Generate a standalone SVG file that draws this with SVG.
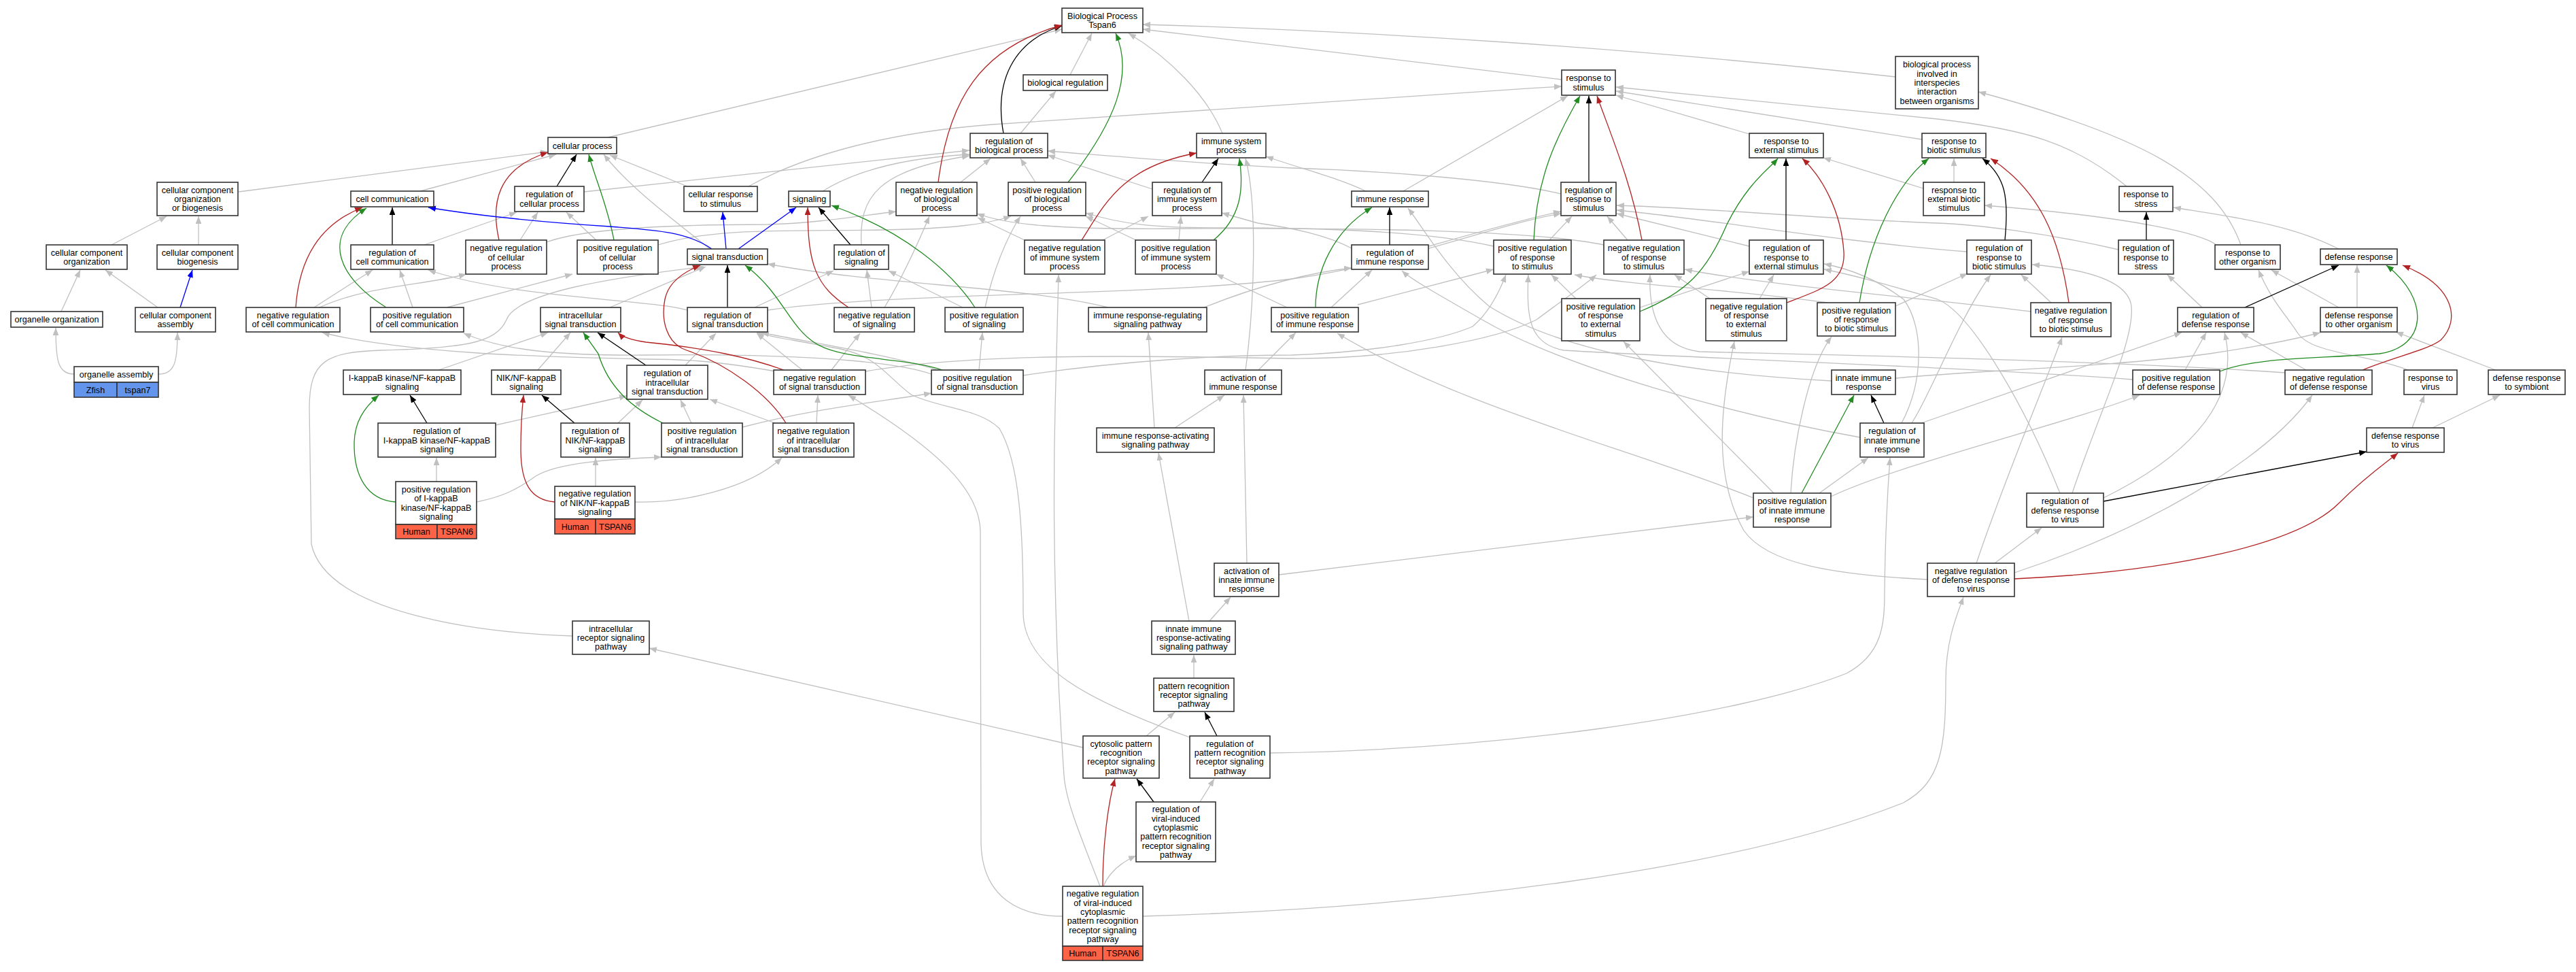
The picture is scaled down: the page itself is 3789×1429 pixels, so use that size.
<svg xmlns="http://www.w3.org/2000/svg" width="3789" height="1429" viewBox="0 0 3789 1429">
<style>
.n rect{fill:#fff;stroke:#333;stroke-width:1.6}
.n rect.h{fill:#ff6347}
.n rect.z{fill:#6495ed}
text{font-family:"Liberation Sans",Arial,sans-serif;font-size:12.6px;text-anchor:middle;fill:#000}
.e path{fill:none;stroke-width:1.3}
.e .g{stroke:#c0c0c0;marker-end:url(#ag)}
.e .k{stroke:#000;marker-end:url(#ak)}
.e .r{stroke:#b22222;marker-end:url(#ar)}
.e .v{stroke:#228b22;marker-end:url(#av)}
.e .b{stroke:#0000ff;marker-end:url(#ab)}
</style>
<defs>
<marker id="ag" viewBox="0 0 10 8" refX="10" refY="4" markerWidth="11" markerHeight="8.8" markerUnits="userSpaceOnUse" orient="auto"><path d="M0,0L10,4L0,8z" fill="#c0c0c0"/></marker>
<marker id="ak" viewBox="0 0 10 8" refX="10" refY="4" markerWidth="11" markerHeight="8.8" markerUnits="userSpaceOnUse" orient="auto"><path d="M0,0L10,4L0,8z" fill="#000"/></marker>
<marker id="ar" viewBox="0 0 10 8" refX="10" refY="4" markerWidth="11" markerHeight="8.8" markerUnits="userSpaceOnUse" orient="auto"><path d="M0,0L10,4L0,8z" fill="#b22222"/></marker>
<marker id="av" viewBox="0 0 10 8" refX="10" refY="4" markerWidth="11" markerHeight="8.8" markerUnits="userSpaceOnUse" orient="auto"><path d="M0,0L10,4L0,8z" fill="#228b22"/></marker>
<marker id="ab" viewBox="0 0 10 8" refX="10" refY="4" markerWidth="11" markerHeight="8.8" markerUnits="userSpaceOnUse" orient="auto"><path d="M0,0L10,4L0,8z" fill="#0000ff"/></marker>
</defs>
<rect width="3789" height="1429" fill="#fff"/>
<g id="edges" class="e">
<path class="g" d="M894,202 L1562,43"/>
<path class="g" d="M1574,110 L1606,49"/>
<path class="g" d="M1501,196 L1553,134"/>
<path class="g" d="M1798,196 C1775,140 1720,85 1660,49"/>
<path class="g" d="M2297,117 L1681,43"/>
<path class="g" d="M2788,113 C2400,70 2000,45 1681,36"/>
<path class="g" d="M351,282 L806,223"/>
<path class="g" d="M618,281 L818,227"/>
<path class="g" d="M1044,366 C1000,330 930,280 888,227"/>
<path class="g" d="M1011,274 L897,228"/>
<path class="g" d="M1101,274 C1180,230 1300,195 1460,183 C1700,165 2000,145 2297,127"/>
<path class="g" d="M859,282 L1426,221"/>
<path class="g" d="M1210,281 C1260,250 1330,232 1426,227"/>
<path class="g" d="M1267,360 C1263,290 1290,250 1426,229"/>
<path class="g" d="M1413,268 L1457,233"/>
<path class="g" d="M1523,268 L1501,233"/>
<path class="g" d="M1695,278 L1541,228"/>
<path class="g" d="M2296,285 C2200,262 2000,250 1900,247 C1750,240 1620,228 1541,222"/>
<path class="g" d="M2009,281 C1970,262 1920,250 1862,230"/>
<path class="g" d="M2064,281 L2306,141"/>
<path class="g" d="M2573,197 L2377,140"/>
<path class="g" d="M2827,205 L2377,134"/>
<path class="g" d="M3128,274 C3050,210 2980,190 2850,175 L2377,128"/>
<path class="g" d="M3296,360 C3260,260 3150,200 2910,135"/>
<path class="g" d="M3260,360 C3240,345 3150,320 2919,302"/>
<path class="g" d="M2874,268 L2874,233"/>
<path class="g" d="M2829,277 L2682,232"/>
<path class="g" d="M3440,366 C3370,330 3290,320 3197,305"/>
<path class="g" d="M3467,452 L3467,390"/>
<path class="g" d="M3440,452 L3341,397"/>
<path class="g" d="M3542,544 C3480,520 3400,520 3380,490 C3360,460 3340,440 3322,397"/>
<path class="g" d="M3239,452 L3188,404"/>
<path class="g" d="M3392,544 L3296,489"/>
<path class="g" d="M3214,544 L3245,489"/>
<path class="g" d="M3671,544 L3524,488"/>
<path class="g" d="M3548,629 L3566,581"/>
<path class="g" d="M3578,629 L3677,581"/>
<path class="g" d="M3094,732 C3200,680 3300,600 3272,489"/>
<path class="g" d="M3048,725 C3090,600 3140,500 3135,450 C3130,410 3060,395 2989,389"/>
<path class="g" d="M2934,828 L3003,776"/>
<path class="g" d="M2907,828 C2950,700 3010,560 3033,496"/>
<path class="g" d="M2963,842 C3150,780 3330,680 3401,581"/>
<path class="g" d="M2835,852 C2700,845 2600,830 2565,780 C2520,700 2530,600 2551,502"/>
<path class="g" d="M3017,445 L2973,404"/>
<path class="g" d="M2987,458 C2850,440 2600,420 2478,396"/>
<path class="g" d="M2788,450 L2894,402"/>
<path class="g" d="M2688,445 C2550,425 2400,420 2316,404"/>
<path class="g" d="M2893,370 C2700,355 2500,320 2378,309"/>
<path class="g" d="M3116,367 C3000,340 2900,330 2850,328 C2650,320 2500,305 2378,302"/>
<path class="g" d="M2573,362 L2378,314"/>
<path class="g" d="M2412,452 L2573,399"/>
<path class="g" d="M2588,439 L2609,404"/>
<path class="g" d="M2318,439 L2282,404"/>
<path class="g" d="M2515,439 L2463,404"/>
<path class="g" d="M2279,353 L2312,318"/>
<path class="g" d="M2394,353 L2364,318"/>
<path class="g" d="M2197,362 C2100,340 1950,335 1800,335 C1700,335 1650,330 1597,313"/>
<path class="g" d="M2359,360 C2250,338 2000,335 1750,336 C1550,338 1480,330 1437,314"/>
<path class="g" d="M2101,362 C2180,340 2250,320 2296,311"/>
<path class="g" d="M1988,365 C1950,345 1900,335 1850,328 L1797,313"/>
<path class="g" d="M1997,448 L2197,396"/>
<path class="g" d="M1958,452 L2018,397"/>
<path class="g" d="M1893,452 L1789,403"/>
<path class="g" d="M1771,452 C1850,420 1930,400 1988,394"/>
<path class="g" d="M1630,452 C1500,420 1300,420 1129,388"/>
<path class="g" d="M1832,544 C1845,450 1850,300 1832,233"/>
<path class="g" d="M1851,544 L1906,489"/>
<path class="g" d="M1698,629 L1689,489"/>
<path class="g" d="M1728,629 L1801,581"/>
<path class="g" d="M1749,913 L1704,666"/>
<path class="g" d="M1779,913 L1810,878"/>
<path class="g" d="M1834,828 L1829,581"/>
<path class="g" d="M1881,845 L2579,760"/>
<path class="g" d="M1756,997 L1756,963"/>
<path class="g" d="M1686,1082 L1728,1047"/>
<path class="g" d="M1593,1099 L955,953"/>
<path class="g" d="M1750,1084 C1600,1030 1505,980 1505,900 C1505,780 1500,680 1470,630 C1440,600 1380,600 1340,580 C1300,550 1290,520 1220,510 C1170,500 1140,497 1113,489"/>
<path class="g" d="M1868,1107 C2200,1102 2550,1055 2716,990 C2768,962 2772,920 2772,870 C2773,780 2778,700 2780,673"/>
<path class="g" d="M1765,1179 L1786,1145"/>
<path class="g" d="M1623,1303 C1630,1285 1645,1270 1671,1258"/>
<path class="g" d="M1563,1347 C1500,1347 1445,1320 1443,1240 L1442,780 C1440,720 1380,660 1248,581"/>
<path class="g" d="M1618,1303 C1590,1230 1568,1180 1565,1140 C1555,1000 1547,800 1552,600 C1554,500 1556,450 1557,404"/>
<path class="g" d="M1681,1347 C2100,1335 2550,1280 2800,1180 C2855,1150 2862,1100 2862,1000 C2862,940 2880,900 2888,878"/>
<path class="g" d="M842,935 C700,930 480,900 458,800 L455,600 C455,530 480,518 560,515 C680,512 730,505 745,470 C760,430 900,408 1035,392"/>
<path class="g" d="M897,452 L1038,392"/>
<path class="g" d="M1011,456 C960,440 760,440 630,397"/>
<path class="g" d="M1110,452 L1226,398"/>
<path class="g" d="M1129,456 C1300,430 1700,435 1900,410 C2050,390 2200,330 2296,314"/>
<path class="g" d="M1180,544 L1113,490"/>
<path class="g" d="M1223,544 L1265,490"/>
<path class="g" d="M1141,546 C1050,530 1000,528 950,528 C800,525 600,520 474,489"/>
<path class="g" d="M1273,546 C1450,515 1750,525 1900,527 C2050,528 2200,500 2260,470 C2300,440 2330,420 2348,404"/>
<path class="g" d="M1380,544 C1300,520 1200,505 1120,489"/>
<path class="g" d="M1440,544 L1445,489"/>
<path class="g" d="M1370,550 C1300,525 1100,520 950,522 C820,523 740,515 682,490"/>
<path class="g" d="M1505,552 C1650,530 1800,522 1900,522 C2020,518 2120,500 2166,480 C2190,460 2205,430 2215,404"/>
<path class="g" d="M1008,537 L1053,490"/>
<path class="g" d="M1017,622 L1001,588"/>
<path class="g" d="M1092,628 C1200,600 1300,590 1370,578"/>
<path class="g" d="M1201,622 L1203,581"/>
<path class="g" d="M1140,622 L1044,587"/>
<path class="g" d="M645,544 L806,489"/>
<path class="g" d="M791,544 L839,489"/>
<path class="g" d="M729,625 L922,582"/>
<path class="g" d="M909,622 L945,588"/>
<path class="g" d="M642,708 L642,673"/>
<path class="g" d="M701,738 C740,730 760,720 788,700 C820,680 900,675 973,672"/>
<path class="g" d="M876,715 L876,673"/>
<path class="g" d="M934,738 C1000,740 1100,720 1150,673"/>
<path class="g" d="M1282,452 L1275,397"/>
<path class="g" d="M1301,452 C1320,420 1345,370 1367,318"/>
<path class="g" d="M1416,452 L1307,398"/>
<path class="g" d="M1449,452 C1460,400 1480,350 1501,318"/>
<path class="g" d="M765,353 L791,312"/>
<path class="g" d="M877,353 L833,312"/>
<path class="g" d="M804,356 C860,335 1000,330 1130,330 C1200,328 1260,318 1318,311"/>
<path class="g" d="M968,360 C1050,335 1150,340 1300,338 C1400,336 1450,330 1487,318"/>
<path class="g" d="M1507,353 L1438,320"/>
<path class="g" d="M1671,353 L1597,318"/>
<path class="g" d="M1622,353 L1689,318"/>
<path class="g" d="M1734,353 L1737,318"/>
<path class="g" d="M462,452 L548,397"/>
<path class="g" d="M607,452 L588,397"/>
<path class="g" d="M470,452 C540,420 620,420 686,403"/>
<path class="g" d="M657,452 L842,403"/>
<path class="g" d="M624,360 L760,312"/>
<path class="g" d="M164,360 L245,318"/>
<path class="g" d="M292,360 L292,318"/>
<path class="g" d="M90,458 L118,397"/>
<path class="g" d="M232,452 L155,397"/>
<path class="g" d="M109,550 C85,550 82,530 82,482"/>
<path class="g" d="M233,550 C258,550 261,530 261,489"/>
<path class="g" d="M2694,560 C2500,550 2300,520 2190,450 C2130,400 2090,330 2071,306"/>
<path class="g" d="M2736,643 C2550,610 2300,540 2180,470 C2110,430 2075,410 2062,398"/>
<path class="g" d="M2826,622 L3209,489"/>
<path class="g" d="M2812,622 C2840,580 2880,470 2928,404"/>
<path class="g" d="M2797,622 C2830,560 2830,480 2800,440 C2760,410 2720,395 2683,388"/>
<path class="g" d="M3030,725 C2980,600 2900,460 2850,440 C2780,420 2730,405 2683,396"/>
<path class="g" d="M2579,732 C2400,660 2150,600 1967,490"/>
<path class="g" d="M2609,725 L2388,502"/>
<path class="g" d="M2634,725 C2638,650 2660,540 2694,495"/>
<path class="g" d="M2676,725 L2748,673"/>
<path class="g" d="M2693,730 C2800,680 3050,620 3147,581"/>
<path class="g" d="M2788,556 C2900,545 3100,540 3250,520 C3350,505 3390,495 3413,489"/>
<path class="g" d="M3137,558 C2900,540 2500,527 2300,515 C2250,505 2245,470 2248,404"/>
<path class="g" d="M3361,548 C3100,530 2700,522 2500,517 C2440,510 2425,460 2427,404"/>
<path class="k" d="M1476,196 C1462,120 1490,60 1562,38"/>
<path class="k" d="M819,274 L848,227"/>
<path class="k" d="M577,360 L577,305"/>
<path class="k" d="M1768,268 L1792,233"/>
<path class="k" d="M2337,268 L2337,141"/>
<path class="k" d="M2044,360 L2044,305"/>
<path class="k" d="M2627,353 L2627,233"/>
<path class="k" d="M2949,353 C2955,290 2950,260 2916,233"/>
<path class="k" d="M3157,353 L3157,312"/>
<path class="k" d="M3302,452 L3440,390"/>
<path class="k" d="M1070,452 L1070,390"/>
<path class="k" d="M1251,360 L1204,305"/>
<path class="k" d="M950,537 L879,489"/>
<path class="k" d="M628,622 L603,581"/>
<path class="k" d="M845,622 L797,581"/>
<path class="k" d="M2771,622 L2752,581"/>
<path class="k" d="M1790,1082 L1772,1047"/>
<path class="k" d="M1697,1179 L1672,1145"/>
<path class="k" d="M3094,737 L3481,664"/>
<path class="r" d="M1380,268 C1395,150 1440,70 1562,37"/>
<path class="r" d="M734,353 C722,300 730,248 806,224"/>
<path class="r" d="M1591,353 C1625,300 1650,245 1760,225"/>
<path class="r" d="M2415,353 C2400,270 2370,200 2349,141"/>
<path class="r" d="M2628,445 C2680,425 2715,415 2712,370 C2708,310 2680,260 2651,233"/>
<path class="r" d="M3043,445 C3030,350 3000,280 2928,233"/>
<path class="r" d="M3475,544 C3520,525 3570,515 3590,500 C3620,470 3610,420 3534,390"/>
<path class="r" d="M435,452 C440,380 470,330 533,305"/>
<path class="r" d="M1248,452 C1200,420 1188,390 1188,305"/>
<path class="r" d="M1156,622 C1130,580 1070,535 1010,515 C980,505 972,470 978,440 C983,415 1005,400 1030,390"/>
<path class="r" d="M1153,544 C1100,525 1040,512 950,503 C930,500 915,495 909,489"/>
<path class="r" d="M816,738 C780,735 766,710 766,660 C766,620 768,600 770,581"/>
<path class="r" d="M1622,1303 C1622,1240 1630,1180 1640,1145"/>
<path class="r" d="M2963,851 C3200,840 3380,800 3440,740 C3480,700 3510,680 3527,666"/>
<path class="v" d="M1571,268 C1640,180 1668,110 1641,49"/>
<path class="v" d="M903,353 C893,300 875,262 866,227"/>
<path class="v" d="M1785,353 C1825,320 1830,280 1823,233"/>
<path class="v" d="M2256,353 C2260,260 2290,200 2324,141"/>
<path class="v" d="M2412,458 C2480,430 2510,400 2540,330 C2570,270 2600,250 2615,233"/>
<path class="v" d="M2735,445 C2750,350 2790,270 2837,233"/>
<path class="v" d="M3265,546 C3320,525 3400,528 3500,520 C3570,510 3575,440 3510,390"/>
<path class="v" d="M568,452 C500,410 470,350 539,306"/>
<path class="v" d="M1434,452 C1400,400 1330,340 1223,302"/>
<path class="v" d="M1386,544 C1330,525 1240,530 1200,505 C1160,480 1150,430 1096,390"/>
<path class="v" d="M1935,452 C1935,400 1960,340 2018,305"/>
<path class="v" d="M2650,725 L2727,581"/>
<path class="v" d="M975,622 C930,600 895,570 880,520 L858,489"/>
<path class="v" d="M582,738 C540,735 520,700 521,650 C522,620 535,600 557,581"/>
<path class="b" d="M1047,366 C1010,340 960,338 897,333 C820,328 720,320 630,305"/>
<path class="b" d="M1068,366 L1063,312"/>
<path class="b" d="M1086,366 L1171,305"/>
<path class="b" d="M265,452 L283,397"/>
</g>
<g id="n_bp" class="n"><rect x="1562" y="12" width="119" height="36"/><text x="1621.5" y="27.9">Biological Process</text><text x="1621.5" y="41.2">Tspan6</text></g>
<g id="n_bioreg" class="n"><rect x="1505" y="110" width="124" height="23"/><text x="1567" y="126">biological regulation</text></g>
<g id="n_regbp" class="n"><rect x="1427" y="196" width="114" height="36"/><text x="1484" y="211.9">regulation of</text><text x="1484" y="225.2">biological process</text></g>
<g id="n_isp" class="n"><rect x="1760" y="196" width="102" height="36"/><text x="1811" y="211.9">immune system</text><text x="1811" y="225.2">process</text></g>
<g id="n_cp" class="n"><rect x="806" y="202" width="101" height="24"/><text x="856.5" y="218.5">cellular process</text></g>
<g id="n_rs" class="n"><rect x="2297" y="103" width="79" height="37"/><text x="2336.5" y="119.4">response to</text><text x="2336.5" y="132.7">stimulus</text></g>
<g id="n_inter" class="n"><rect x="2788" y="83" width="122" height="77"/><text x="2849" y="99.4">biological process</text><text x="2849" y="112.7">involved in</text><text x="2849" y="126">interspecies</text><text x="2849" y="139.3">interaction</text><text x="2849" y="152.6">between organisms</text></g>
<g id="n_rext" class="n"><rect x="2573" y="196" width="109" height="36"/><text x="2627.5" y="211.9">response to</text><text x="2627.5" y="225.2">external stimulus</text></g>
<g id="n_rbio" class="n"><rect x="2827" y="196" width="94" height="36"/><text x="2874" y="211.9">response to</text><text x="2874" y="225.2">biotic stimulus</text></g>
<g id="n_ccob" class="n"><rect x="231" y="268" width="119" height="49"/><text x="290.5" y="283.7">cellular component</text><text x="290.5" y="297">organization</text><text x="290.5" y="310.3">or biogenesis</text></g>
<g id="n_cc" class="n"><rect x="516" y="281" width="122" height="23"/><text x="577" y="297">cell communication</text></g>
<g id="n_regcp" class="n"><rect x="757" y="274" width="102" height="37"/><text x="808" y="290.4">regulation of</text><text x="808" y="303.7">cellular process</text></g>
<g id="n_crs" class="n"><rect x="1006" y="274" width="108" height="37"/><text x="1060" y="290.4">cellular response</text><text x="1060" y="303.7">to stimulus</text></g>
<g id="n_sig" class="n"><rect x="1160" y="281" width="61" height="23"/><text x="1190.5" y="297">signaling</text></g>
<g id="n_nrbp" class="n"><rect x="1318" y="268" width="119" height="49"/><text x="1377.5" y="283.7">negative regulation</text><text x="1377.5" y="297">of biological</text><text x="1377.5" y="310.3">process</text></g>
<g id="n_prbp" class="n"><rect x="1483" y="268" width="114" height="49"/><text x="1540" y="283.7">positive regulation</text><text x="1540" y="297">of biological</text><text x="1540" y="310.3">process</text></g>
<g id="n_risp" class="n"><rect x="1695" y="268" width="102" height="49"/><text x="1746" y="283.7">regulation of</text><text x="1746" y="297">immune system</text><text x="1746" y="310.3">process</text></g>
<g id="n_ir" class="n"><rect x="1988" y="281" width="113" height="23"/><text x="2044.5" y="297">immune response</text></g>
<g id="n_rrs" class="n"><rect x="2296" y="268" width="81" height="49"/><text x="2336.5" y="283.7">regulation of</text><text x="2336.5" y="297">response to</text><text x="2336.5" y="310.3">stimulus</text></g>
<g id="n_rebs" class="n"><rect x="2829" y="268" width="90" height="49"/><text x="2874" y="283.7">response to</text><text x="2874" y="297">external biotic</text><text x="2874" y="310.3">stimulus</text></g>
<g id="n_rstress" class="n"><rect x="3117" y="274" width="79" height="37"/><text x="3156.5" y="290.4">response to</text><text x="3156.5" y="303.7">stress</text></g>
<g id="n_cco" class="n"><rect x="68" y="360" width="119" height="36"/><text x="127.5" y="375.9">cellular component</text><text x="127.5" y="389.2">organization</text></g>
<g id="n_ccb" class="n"><rect x="231" y="360" width="119" height="36"/><text x="290.5" y="375.9">cellular component</text><text x="290.5" y="389.2">biogenesis</text></g>
<g id="n_rcc" class="n"><rect x="516" y="360" width="122" height="36"/><text x="577" y="375.9">regulation of</text><text x="577" y="389.2">cell communication</text></g>
<g id="n_nrcp" class="n"><rect x="685" y="353" width="119" height="50"/><text x="744.5" y="369.2">negative regulation</text><text x="744.5" y="382.5">of cellular</text><text x="744.5" y="395.8">process</text></g>
<g id="n_prcp" class="n"><rect x="849" y="353" width="119" height="50"/><text x="908.5" y="369.2">positive regulation</text><text x="908.5" y="382.5">of cellular</text><text x="908.5" y="395.8">process</text></g>
<g id="n_st" class="n"><rect x="1011" y="366" width="118" height="23"/><text x="1070" y="382">signal transduction</text></g>
<g id="n_rsig" class="n"><rect x="1227" y="360" width="80" height="36"/><text x="1267" y="375.9">regulation of</text><text x="1267" y="389.2">signaling</text></g>
<g id="n_nrisp" class="n"><rect x="1507" y="353" width="118" height="50"/><text x="1566" y="369.2">negative regulation</text><text x="1566" y="382.5">of immune system</text><text x="1566" y="395.8">process</text></g>
<g id="n_prisp" class="n"><rect x="1670" y="353" width="119" height="50"/><text x="1729.5" y="369.2">positive regulation</text><text x="1729.5" y="382.5">of immune system</text><text x="1729.5" y="395.8">process</text></g>
<g id="n_rir" class="n"><rect x="1988" y="360" width="113" height="36"/><text x="2044.5" y="375.9">regulation of</text><text x="2044.5" y="389.2">immune response</text></g>
<g id="n_prrs" class="n"><rect x="2197" y="353" width="114" height="50"/><text x="2254" y="369.2">positive regulation</text><text x="2254" y="382.5">of response</text><text x="2254" y="395.8">to stimulus</text></g>
<g id="n_nrrs" class="n"><rect x="2359" y="353" width="118" height="50"/><text x="2418" y="369.2">negative regulation</text><text x="2418" y="382.5">of response</text><text x="2418" y="395.8">to stimulus</text></g>
<g id="n_rres" class="n"><rect x="2573" y="353" width="109" height="50"/><text x="2627.5" y="369.2">regulation of</text><text x="2627.5" y="382.5">response to</text><text x="2627.5" y="395.8">external stimulus</text></g>
<g id="n_rrbs" class="n"><rect x="2893" y="353" width="95" height="50"/><text x="2940.5" y="369.2">regulation of</text><text x="2940.5" y="382.5">response to</text><text x="2940.5" y="395.8">biotic stimulus</text></g>
<g id="n_rrstress" class="n"><rect x="3116" y="353" width="81" height="50"/><text x="3156.5" y="369.2">regulation of</text><text x="3156.5" y="382.5">response to</text><text x="3156.5" y="395.8">stress</text></g>
<g id="n_rother" class="n"><rect x="3258" y="360" width="96" height="36"/><text x="3306" y="375.9">response to</text><text x="3306" y="389.2">other organism</text></g>
<g id="n_def" class="n"><rect x="3413" y="366" width="113" height="23"/><text x="3469.5" y="382">defense response</text></g>
<g id="n_oo" class="n"><rect x="16" y="458" width="135" height="23"/><text x="83.5" y="474">organelle organization</text></g>
<g id="n_cca" class="n"><rect x="199" y="452" width="118" height="36"/><text x="258" y="467.9">cellular component</text><text x="258" y="481.2">assembly</text></g>
<g id="n_nrcc" class="n"><rect x="362" y="452" width="138" height="36"/><text x="431" y="467.9">negative regulation</text><text x="431" y="481.2">of cell communication</text></g>
<g id="n_prcc" class="n"><rect x="545" y="452" width="137" height="36"/><text x="613.5" y="467.9">positive regulation</text><text x="613.5" y="481.2">of cell communication</text></g>
<g id="n_ist" class="n"><rect x="795" y="452" width="118" height="36"/><text x="854" y="467.9">intracellular</text><text x="854" y="481.2">signal transduction</text></g>
<g id="n_rst" class="n"><rect x="1011" y="452" width="118" height="36"/><text x="1070" y="467.9">regulation of</text><text x="1070" y="481.2">signal transduction</text></g>
<g id="n_nrsig" class="n"><rect x="1227" y="452" width="118" height="36"/><text x="1286" y="467.9">negative regulation</text><text x="1286" y="481.2">of signaling</text></g>
<g id="n_prsig" class="n"><rect x="1390" y="452" width="115" height="36"/><text x="1447.5" y="467.9">positive regulation</text><text x="1447.5" y="481.2">of signaling</text></g>
<g id="n_irrsp" class="n"><rect x="1601" y="452" width="174" height="36"/><text x="1688" y="467.9">immune response-regulating</text><text x="1688" y="481.2">signaling pathway</text></g>
<g id="n_prir" class="n"><rect x="1870" y="452" width="128" height="36"/><text x="1934" y="467.9">positive regulation</text><text x="1934" y="481.2">of immune response</text></g>
<g id="n_prres" class="n"><rect x="2297" y="439" width="115" height="62"/><text x="2354.5" y="454.6">positive regulation</text><text x="2354.5" y="467.9">of response</text><text x="2354.5" y="481.2">to external</text><text x="2354.5" y="494.5">stimulus</text></g>
<g id="n_nrres" class="n"><rect x="2509" y="439" width="119" height="62"/><text x="2568.5" y="454.6">negative regulation</text><text x="2568.5" y="467.9">of response</text><text x="2568.5" y="481.2">to external</text><text x="2568.5" y="494.5">stimulus</text></g>
<g id="n_prrbs" class="n"><rect x="2673" y="445" width="115" height="49"/><text x="2730.5" y="460.7">positive regulation</text><text x="2730.5" y="474">of response</text><text x="2730.5" y="487.3">to biotic stimulus</text></g>
<g id="n_nrrbs" class="n"><rect x="2987" y="445" width="118" height="50"/><text x="3046" y="461.2">negative regulation</text><text x="3046" y="474.5">of response</text><text x="3046" y="487.8">to biotic stimulus</text></g>
<g id="n_rdef" class="n"><rect x="3203" y="452" width="112" height="36"/><text x="3259" y="467.9">regulation of</text><text x="3259" y="481.2">defense response</text></g>
<g id="n_dro" class="n"><rect x="3413" y="452" width="113" height="36"/><text x="3469.5" y="467.9">defense response</text><text x="3469.5" y="481.2">to other organism</text></g>
<g id="n_oa" class="n"><rect x="109" y="539" width="124" height="23"/><text x="171" y="555">organelle assembly</text><rect class="z" x="109" y="562" width="63" height="22"/><rect class="z" x="172" y="562" width="61" height="22"/><text x="140.5" y="577.5">Zfish</text><text x="202.5" y="577.5">tspan7</text></g>
<g id="n_ikk" class="n"><rect x="505" y="544" width="173" height="36"/><text x="591.5" y="559.9">I-kappaB kinase/NF-kappaB</text><text x="591.5" y="573.2">signaling</text></g>
<g id="n_nik" class="n"><rect x="723" y="544" width="102" height="36"/><text x="774" y="559.9">NIK/NF-kappaB</text><text x="774" y="573.2">signaling</text></g>
<g id="n_rist" class="n"><rect x="922" y="537" width="119" height="50"/><text x="981.5" y="553.2">regulation of</text><text x="981.5" y="566.5">intracellular</text><text x="981.5" y="579.8">signal transduction</text></g>
<g id="n_nrst" class="n"><rect x="1138" y="544" width="135" height="36"/><text x="1205.5" y="559.9">negative regulation</text><text x="1205.5" y="573.2">of signal transduction</text></g>
<g id="n_prst" class="n"><rect x="1370" y="544" width="135" height="36"/><text x="1437.5" y="559.9">positive regulation</text><text x="1437.5" y="573.2">of signal transduction</text></g>
<g id="n_air" class="n"><rect x="1772" y="544" width="113" height="36"/><text x="1828.5" y="559.9">activation of</text><text x="1828.5" y="573.2">immune response</text></g>
<g id="n_iir" class="n"><rect x="2694" y="544" width="94" height="36"/><text x="2741" y="559.9">innate immune</text><text x="2741" y="573.2">response</text></g>
<g id="n_prdef" class="n"><rect x="3137" y="544" width="128" height="36"/><text x="3201" y="559.9">positive regulation</text><text x="3201" y="573.2">of defense response</text></g>
<g id="n_nrdef" class="n"><rect x="3361" y="544" width="128" height="36"/><text x="3425" y="559.9">negative regulation</text><text x="3425" y="573.2">of defense response</text></g>
<g id="n_rvirus" class="n"><rect x="3536" y="544" width="78" height="36"/><text x="3575" y="559.9">response to</text><text x="3575" y="573.2">virus</text></g>
<g id="n_drsym" class="n"><rect x="3660" y="544" width="113" height="36"/><text x="3716.5" y="559.9">defense response</text><text x="3716.5" y="573.2">to symbiont</text></g>
<g id="n_rikk" class="n"><rect x="556" y="622" width="173" height="50"/><text x="642.5" y="638.2">regulation of</text><text x="642.5" y="651.5">I-kappaB kinase/NF-kappaB</text><text x="642.5" y="664.8">signaling</text></g>
<g id="n_rnik" class="n"><rect x="825" y="622" width="101" height="50"/><text x="875.5" y="638.2">regulation of</text><text x="875.5" y="651.5">NIK/NF-kappaB</text><text x="875.5" y="664.8">signaling</text></g>
<g id="n_prist" class="n"><rect x="973" y="622" width="119" height="50"/><text x="1032.5" y="638.2">positive regulation</text><text x="1032.5" y="651.5">of intracellular</text><text x="1032.5" y="664.8">signal transduction</text></g>
<g id="n_nrist" class="n"><rect x="1137" y="622" width="119" height="50"/><text x="1196.5" y="638.2">negative regulation</text><text x="1196.5" y="651.5">of intracellular</text><text x="1196.5" y="664.8">signal transduction</text></g>
<g id="n_irasp" class="n"><rect x="1613" y="629" width="173" height="36"/><text x="1699.5" y="644.9">immune response-activating</text><text x="1699.5" y="658.2">signaling pathway</text></g>
<g id="n_riir" class="n"><rect x="2736" y="622" width="94" height="50"/><text x="2783" y="638.2">regulation of</text><text x="2783" y="651.5">innate immune</text><text x="2783" y="664.8">response</text></g>
<g id="n_drv" class="n"><rect x="3481" y="629" width="114" height="36"/><text x="3538" y="644.9">defense response</text><text x="3538" y="658.2">to virus</text></g>
<g id="n_prikk" class="n"><rect x="582" y="708" width="119" height="63"/><text x="641.5" y="724">positive regulation</text><text x="641.5" y="737.3">of I-kappaB</text><text x="641.5" y="750.6">kinase/NF-kappaB</text><text x="641.5" y="763.9">signaling</text><rect class="h" x="582" y="771" width="61" height="21"/><rect class="h" x="643" y="771" width="58" height="21"/><text x="612.5" y="786">Human</text><text x="672" y="786">TSPAN6</text></g>
<g id="n_nrnik" class="n"><rect x="816" y="715" width="118" height="48"/><text x="875" y="730.2">negative regulation</text><text x="875" y="743.5">of NIK/NF-kappaB</text><text x="875" y="756.8">signaling</text><rect class="h" x="816" y="763" width="60" height="22"/><rect class="h" x="876" y="763" width="58" height="22"/><text x="846" y="778.5">Human</text><text x="905" y="778.5">TSPAN6</text></g>
<g id="n_priir" class="n"><rect x="2579" y="725" width="114" height="50"/><text x="2636" y="741.2">positive regulation</text><text x="2636" y="754.5">of innate immune</text><text x="2636" y="767.8">response</text></g>
<g id="n_rdrv" class="n"><rect x="2981" y="725" width="113" height="50"/><text x="3037.5" y="741.2">regulation of</text><text x="3037.5" y="754.5">defense response</text><text x="3037.5" y="767.8">to virus</text></g>
<g id="n_aiir" class="n"><rect x="1786" y="828" width="95" height="49"/><text x="1833.5" y="843.7">activation of</text><text x="1833.5" y="857">innate immune</text><text x="1833.5" y="870.3">response</text></g>
<g id="n_nrdrv" class="n"><rect x="2835" y="828" width="128" height="49"/><text x="2899" y="843.7">negative regulation</text><text x="2899" y="857">of defense response</text><text x="2899" y="870.3">to virus</text></g>
<g id="n_iirasp" class="n"><rect x="1694" y="913" width="123" height="49"/><text x="1755.5" y="928.7">innate immune</text><text x="1755.5" y="942">response-activating</text><text x="1755.5" y="955.3">signaling pathway</text></g>
<g id="n_irsp" class="n"><rect x="842" y="913" width="113" height="49"/><text x="898.5" y="928.7">intracellular</text><text x="898.5" y="942">receptor signaling</text><text x="898.5" y="955.3">pathway</text></g>
<g id="n_prr" class="n"><rect x="1697" y="997" width="118" height="49"/><text x="1756" y="1012.7">pattern recognition</text><text x="1756" y="1026">receptor signaling</text><text x="1756" y="1039.3">pathway</text></g>
<g id="n_cprr" class="n"><rect x="1593" y="1082" width="112" height="62"/><text x="1649" y="1097.6">cytosolic pattern</text><text x="1649" y="1110.9">recognition</text><text x="1649" y="1124.2">receptor signaling</text><text x="1649" y="1137.5">pathway</text></g>
<g id="n_rprr" class="n"><rect x="1750" y="1082" width="118" height="62"/><text x="1809" y="1097.6">regulation of</text><text x="1809" y="1110.9">pattern recognition</text><text x="1809" y="1124.2">receptor signaling</text><text x="1809" y="1137.5">pathway</text></g>
<g id="n_rvprr" class="n"><rect x="1671" y="1179" width="117" height="88"/><text x="1729.5" y="1194.3">regulation of</text><text x="1729.5" y="1207.6">viral-induced</text><text x="1729.5" y="1220.9">cytoplasmic</text><text x="1729.5" y="1234.2">pattern recognition</text><text x="1729.5" y="1247.5">receptor signaling</text><text x="1729.5" y="1260.8">pathway</text></g>
<g id="n_nrvprr" class="n"><rect x="1563" y="1303" width="118" height="88"/><text x="1622" y="1318.3">negative regulation</text><text x="1622" y="1331.6">of viral-induced</text><text x="1622" y="1344.9">cytoplasmic</text><text x="1622" y="1358.2">pattern recognition</text><text x="1622" y="1371.5">receptor signaling</text><text x="1622" y="1384.8">pathway</text><rect class="h" x="1563" y="1391" width="59" height="21"/><rect class="h" x="1622" y="1391" width="59" height="21"/><text x="1592.5" y="1406">Human</text><text x="1651.5" y="1406">TSPAN6</text></g>
</svg>
